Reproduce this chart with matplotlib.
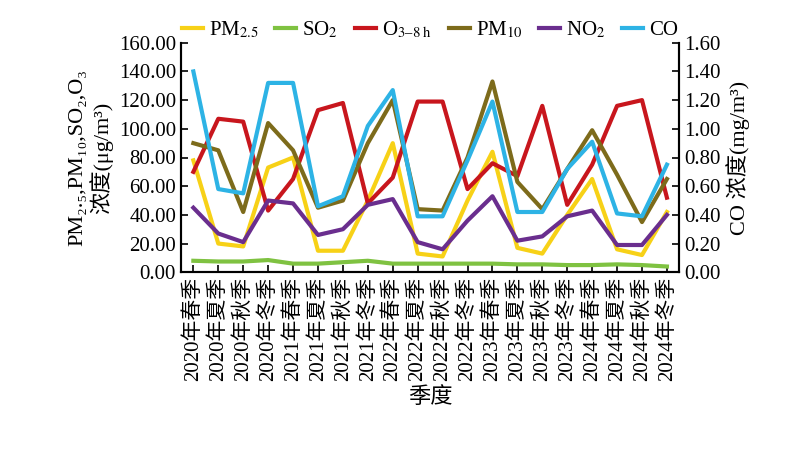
import matplotlib.pyplot as plt

plt.rcParams['font.family'] = ['Liberation Serif', 'Noto Sans CJK SC', 'DejaVu Sans']
plt.rcParams['mathtext.fontset'] = 'stix'

quarters = [f'{y}年{s}季' for y in range(2020, 2025) for s in ['春', '夏', '秋', '冬']]
pm25 = [78, 20, 18, 73, 80, 15, 15, 50, 90, 13, 11, 50, 84, 17, 13, 40, 65, 16, 12, 42]
so2 = [8, 7.5, 7.5, 8.5, 6, 6, 7, 8, 6, 6, 6, 6, 6, 5.5, 5.5, 5, 5, 5.5, 5, 4]
o3 = [70, 107, 105, 43, 65, 113, 118, 48, 66, 119, 119, 58, 76, 67, 116, 47, 75, 116, 120, 52]
pm10 = [90, 85, 42, 104, 85, 45, 50, 90, 120, 44, 43, 80, 133, 63, 44, 72, 99, 68, 35, 65]
no2 = [45, 27, 21, 50, 48, 26, 30, 47, 51, 21, 16, 36, 53, 22, 25, 39, 43, 19, 19, 40]
co = [1.40, 0.58, 0.55, 1.32, 1.32, 0.46, 0.53, 1.02, 1.27, 0.39, 0.39, 0.78, 1.19, 0.42, 0.42, 0.72, 0.91, 0.41, 0.39, 0.75]

fig, ax = plt.subplots(figsize=(8.04, 4.5), dpi=100)
fig.subplots_adjust(left=0.225, right=0.845, top=0.905, bottom=0.395)
x = range(len(quarters))
lw = 3
l1, = ax.plot(x, pm25, color='#f7d117', lw=lw, label='PM$_{2.5}$')
l2, = ax.plot(x, so2, color='#7fc241', lw=lw, label='SO$_2$')
l3, = ax.plot(x, o3, color='#c8161d', lw=lw, label='O$_{3\u20138\\ \\mathrm{h}}$')
l4, = ax.plot(x, pm10, color='#7d6b1b', lw=lw, label='PM$_{10}$')
l5, = ax.plot(x, no2, color='#6a2e8e', lw=lw, label='NO$_2$')
ax2 = ax.twinx()
l6, = ax2.plot(x, co, color='#2db3e5', lw=lw, label='CO')

ax.set_ylim(0, 160)
ax.set_yticks(range(0, 161, 20))
ax.set_yticklabels([f'{v:.2f}' for v in range(0, 161, 20)], fontsize=15)
ax2.set_ylim(0, 1.6)
ax2.set_yticks([i * 0.2 for i in range(9)])
ax2.set_yticklabels([f'{i * 0.2:.2f}' for i in range(9)], fontsize=15)
ax.set_xlim(-0.5, len(quarters) - 0.5)
ax.set_xticks(list(x))
ax.set_xticklabels(quarters, rotation=90, fontsize=15)
ax.set_xlabel('季度', fontsize=16)
ax.set_ylabel('PM₂.₅,PM₁₀,SO₂,O₃\n浓度(μg/m³)', fontsize=16, linespacing=1.1)
ax2.set_ylabel('CO 浓度(mg/m³)', fontsize=16)
for a in (ax, ax2):
    a.spines['top'].set_visible(False)
    a.tick_params(direction='in', width=1.2, length=5)
    for s in a.spines.values():
        s.set_linewidth(1.5)
ax.legend(handles=[l1, l2, l3, l4, l5, l6], ncol=6, loc='lower center',
          bbox_to_anchor=(0.5, 0.93), frameon=False, fontsize=15,
          handlelength=1.0, handletextpad=0.3, columnspacing=0.8)
fig.savefig('out.png')
